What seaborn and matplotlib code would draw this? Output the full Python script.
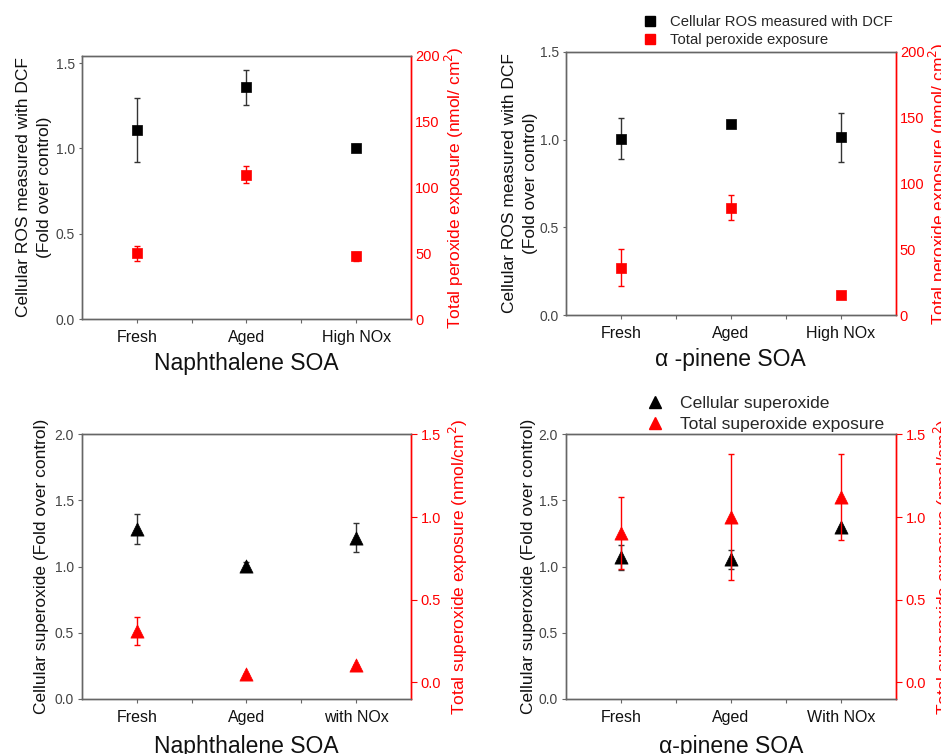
import numpy as np
import pandas as pd
import matplotlib
matplotlib.use("Agg")
import matplotlib.pyplot as plt
from matplotlib.lines import Line2D
import seaborn as sns

sns.set_theme(style="white")
plt.rcParams['font.family'] = ['Liberation Sans', 'DejaVu Sans']

# ---------------- data ----------------
cats_top = ["Fresh", "Aged", "High NOx"]
cats_bl = ["Fresh", "Aged", "with NOx"]
cats_br = ["Fresh", "Aged", "With NOx"]

naph_ros = [1.107, 1.357, 1.004]
naph_ros_err = [0.186, 0.105, 0.02]
naph_perox = [49.8, 109.6, 47.5]
naph_perox_err = [5.5, 6.5, 3.5]

apin_ros = [1.005, 1.087, 1.013]
apin_ros_err = [0.117, 0.0, 0.138]
apin_perox = [36.1, 81.6, 15.2]
apin_perox_err = [14.0, 9.4, 0.0]

naph_sup = [1.285, 1.008, 1.219]
naph_sup_err = [0.113, 0.03, 0.11]
naph_supexp = [0.311, 0.054, 0.108]
naph_supexp_err = [0.085, 0.0, 0.0]

apin_sup = [1.071, 1.056, 1.300]
apin_sup_err = [0.096, 0.07, 0.0]
apin_supexp = [0.904, 1.002, 1.120]
apin_supexp_err = [0.22, 0.38, 0.26]

xlabels = ["Naphthalene SOA", "α -pinene SOA", "Naphthalene SOA", "α-pinene SOA"]
ylab_top = "Cellular ROS measured with DCF\n(Fold over control)"
ylab2_top = "Total peroxide exposure (nmol/ cm$^2$)"
ylab_bot = "Cellular superoxide (Fold over control)"
ylab2_bot = "Total superoxide exposure (nmol/cm$^2$)"
leg_top = ["Cellular ROS measured with DCF", "Total peroxide exposure"]
leg_bot = ["Cellular superoxide", "Total superoxide exposure"]

W, H = 941, 754
fig = plt.figure(figsize=(W / 100, H / 100), dpi=100)

def frac(x0, y0, x1, y1):
    return [x0 / W, 1 - y1 / H, (x1 - x0) / W, (y1 - y0) / H]

RED = "#ff0000"
GREY = "#666666"

def panel(rect, cats, v1, e1, v2, e2, marker, ms, ylim1, ylim2, yt1, yt2,
          xlabel, ylab1, ylab2, right_ticks, ylab1_pad, ylab2_pad, xlab_pad):
    ax = fig.add_axes(rect)
    ax2 = ax.twinx()
    x = np.arange(len(cats))
    df1 = pd.DataFrame({"x": x, "y": v1})
    df2 = pd.DataFrame({"x": x, "y": v2})
    ax.errorbar(x, v1, yerr=e1, fmt="none", ecolor="#333333", elinewidth=1.0,
                capsize=2.5, capthick=1.0, zorder=2)
    sns.scatterplot(data=df1, x="x", y="y", ax=ax, marker=marker, color="black",
                    s=ms, edgecolor="black", linewidth=0.5, zorder=3, legend=False)
    ax2.errorbar(x, v2, yerr=e2, fmt="none", ecolor=RED, elinewidth=1.0,
                 capsize=2.5, capthick=1.0, zorder=2)
    sns.scatterplot(data=df2, x="x", y="y", ax=ax2, marker=marker, color=RED,
                    s=ms, edgecolor=RED, linewidth=0.5, zorder=3, legend=False)
    ax.set_xlim(-0.5, len(cats) - 0.5)
    ax.set_xticks(x)
    ax.set_xticks(x[:-1] + 0.5, minor=True)
    ax.set_xticklabels(cats, fontsize=11.5, color="#111111")
    ax.set_ylim(*ylim1)
    ax.set_yticks(yt1)
    ax.set_yticklabels([f"{t:.1f}" for t in yt1], fontsize=10, color="#444444")
    ax2.set_ylim(*ylim2)
    ax2.set_yticks(yt2)
    if isinstance(yt2[0], float):
        ax2.set_yticklabels([f"{t:.1f}" for t in yt2], fontsize=10.5, color=RED)
    else:
        ax2.set_yticklabels([f"{t:d}" for t in yt2], fontsize=10.5, color=RED)
    ax.set_xlabel(xlabel, fontsize=16.5, labelpad=xlab_pad, color="#111111")
    ax.set_ylabel(ylab1, fontsize=12.5, color="#111111", labelpad=ylab1_pad,
                  linespacing=1.5)
    ax2.set_ylabel(ylab2, fontsize=12.5, color=RED, labelpad=ylab2_pad)
    ax2.set_xlabel("")
    for a in (ax, ax2):
        for s in a.spines.values():
            s.set_color(GREY)
            s.set_linewidth(1.0)
        a.spines["right"].set_color(RED)
        a.grid(False)
    ax.tick_params(axis="x", which="both", direction="out", length=3,
                   color=GREY, width=0.8, pad=5, bottom=True)
    ax.tick_params(axis="y", direction="out", length=3 if right_ticks else 2,
                   color=GREY, width=0.8, pad=3, left=True)
    ax2.tick_params(axis="y", direction="out", length=4 if right_ticks else 0,
                    color=RED, width=0.8, pad=3, right=True)
    return ax, ax2

# top-left
panel(frac(82, 55.7, 411, 319), cats_top, naph_ros, naph_ros_err,
      naph_perox, naph_perox_err, "s", 60, (0, 1.543), (0, 200),
      [0.0, 0.5, 1.0, 1.5], [0, 50, 100, 150, 200], xlabels[0],
      ylab_top, ylab2_top, False, 3, 2, 5)
# top-right
panel(frac(566, 51.7, 895.7, 315.3), cats_top, apin_ros, apin_ros_err,
      apin_perox, apin_perox_err, "s", 60, (0, 1.5), (0, 200),
      [0.0, 0.5, 1.0, 1.5], [0, 50, 100, 150, 200], xlabels[1],
      ylab_top, ylab2_top, False, 1, 2, 5)
# bottom-left
panel(frac(82, 434.3, 411, 699), cats_bl, naph_sup, naph_sup_err,
      naph_supexp, naph_supexp_err, "^", 90, (0, 2.0), (-0.1, 1.5),
      [0.0, 0.5, 1.0, 1.5, 2.0], [0.0, 0.5, 1.0, 1.5], xlabels[2],
      ylab_bot, ylab2_bot, True, 4, 4, 7)
# bottom-right
panel(frac(566, 434.3, 895.7, 699), cats_br, apin_sup, apin_sup_err,
      apin_supexp, apin_supexp_err, "^", 90, (0, 2.0), (-0.1, 1.5),
      [0.0, 0.5, 1.0, 1.5, 2.0], [0.0, 0.5, 1.0, 1.5], xlabels[3],
      ylab_bot, ylab2_bot, True, 2, 4, 7)

def legend(labels, marker, ms, fs, anchor, pad, spacing):
    h = [Line2D([], [], linestyle="none", marker=marker, markersize=ms,
                color=c, markeredgecolor=c) for c in ("black", RED)]
    fig.legend(h, labels, loc="upper left", bbox_to_anchor=anchor,
               bbox_transform=fig.transFigure, frameon=False, fontsize=fs,
               handlelength=1.0, handletextpad=pad, borderpad=0,
               borderaxespad=0, labelspacing=spacing)

legend(leg_top, "s", 7, 10.7, (643 / W, 1 - 15 / H), 0.85, 0.3)
legend(leg_bot, "^", 9, 12.6, (646 / W, 1 - 396 / H), 0.95, 0.3)

fig.savefig("out.png", dpi=100)
